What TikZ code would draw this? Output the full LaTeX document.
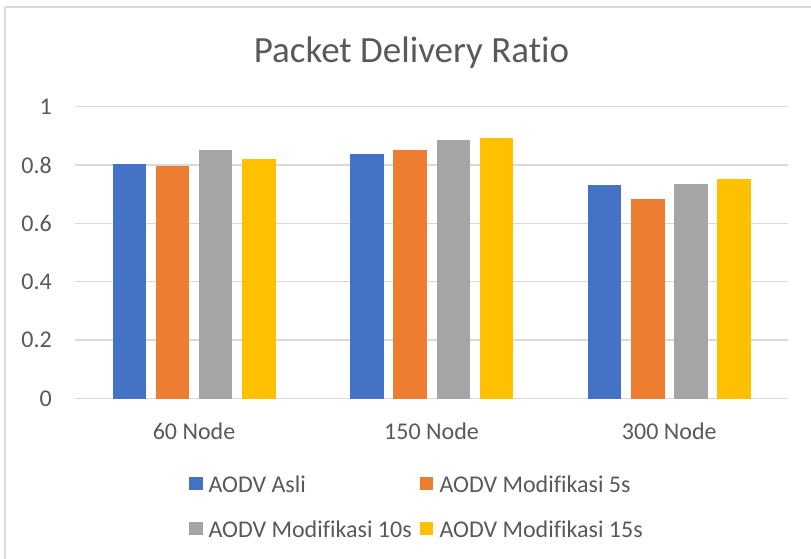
\documentclass[tikz,border=0pt]{standalone}
\usepackage{fontspec}
\setmainfont[Ligatures={NoCommon,NoRare,NoContextual}]{Carlito}
\definecolor{cblue}{RGB}{68,114,196}
\definecolor{corange}{RGB}{237,125,49}
\definecolor{cgray}{RGB}{165,165,165}
\definecolor{cyellow}{RGB}{255,192,0}
\definecolor{txt}{RGB}{89,89,89}
\definecolor{grid}{RGB}{217,217,217}
\begin{document}
\begin{tikzpicture}[x=1pt,y=-1pt,
  lbl/.style={font=\fontsize{24}{28}\selectfont,text=txt,inner sep=0pt},
  bar/.style={inner sep=0pt},
  gridline/.style={draw=grid,line width=1.5pt}]
\useasboundingbox (0,0) rectangle (811,558);
\fill[white] (0,0) rectangle (811,558);
\draw[grid,line width=1.5pt] (5,7) -- (812,7);
\draw[grid,line width=1.5pt] (5,7) -- (5,559);
% title
\node[font=\fontsize{37}{41}\selectfont,text=txt,inner sep=0pt] (title) at (411.5,52.5) {Packet Delivery Ratio};
% grid and y labels
\foreach \v/\t [count=\i] in {0/0,0.2/0.2,0.4/0.4,0.6/0.6,0.8/0.8,1/1}{
  \pgfmathsetmacro{\yy}{398.5-292*\v}
  \draw[gridline] (75,\yy) -- (788,\yy);
  \node[lbl,anchor=east] (y\i) at (52,\yy) {\t};
}
% bars
\newcommand{\mybar}[4]{% x, value, color, name
  \pgfmathsetmacro{\top}{398.5-292*#2}
  \fill[#3] (#1,398.5) rectangle ({#1+33.5},\top);
  \coordinate (#4) at ({#1+16.75},\top);
}
\mybar{112.7}{0.802}{cblue}{a1}
\mybar{155.8}{0.797}{corange}{a2}
\mybar{198.9}{0.852}{cgray}{a3}
\mybar{242.0}{0.820}{cyellow}{a4}
\mybar{350.0}{0.836}{cblue}{b1}
\mybar{393.3}{0.851}{corange}{b2}
\mybar{436.6}{0.886}{cgray}{b3}
\mybar{479.7}{0.892}{cyellow}{b4}
\mybar{587.7}{0.730}{cblue}{c1}
\mybar{631.0}{0.682}{corange}{c2}
\mybar{674.2}{0.736}{cgray}{c3}
\mybar{717.3}{0.751}{cyellow}{c4}
% category labels
\node[lbl] (x1) at (194,431.5) {60 Node};
\node[lbl] (x2) at (431.5,431.5) {150 Node};
\node[lbl] (x3) at (669.3,431.5) {300 Node};
% legend
\fill[cblue] (189.3,477) rectangle (202.7,490.4);
\node[lbl,anchor=west] (l1) at (208.3,484) {AODV Asli};
\fill[corange] (420,477) rectangle (433.4,490.4);
\node[lbl,anchor=west] (l2) at (439.3,484) {AODV Modifikasi 5s};
\fill[cgray] (189.3,522) rectangle (202.7,535.4);
\node[lbl,anchor=west] (l3) at (208.3,529) {AODV Modifikasi 10s};
\fill[cyellow] (420,522) rectangle (433.4,535.4);
\node[lbl,anchor=west] (l4) at (439.3,529) {AODV Modifikasi 15s};
\end{tikzpicture}
\end{document}
